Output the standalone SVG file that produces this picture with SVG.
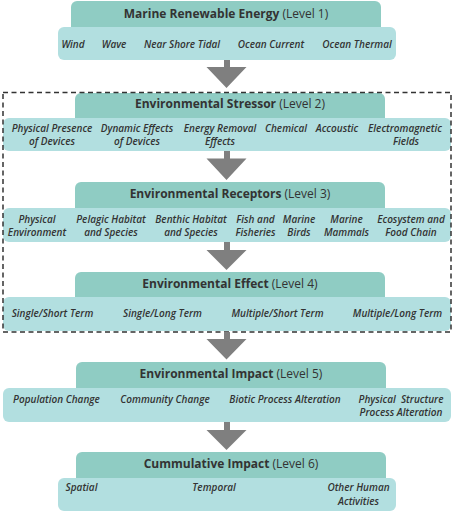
<svg xmlns="http://www.w3.org/2000/svg" width="454" height="513" viewBox="0 0 454 513">
<style>
.hd{fill:#8fccc3}
.bd{fill:#b2dfe0}
.ht{font-family:"Open Sans","Liberation Sans",sans-serif;font-size:12px;fill:#333;text-anchor:middle}
.ht .b{font-weight:700}
.it{font-family:"Open Sans","Liberation Sans",sans-serif;font-size:10px;font-style:italic;font-weight:600;fill:#333;text-anchor:middle}
.arr{fill:#7f7f7f}
</style>
<rect width="454" height="513" fill="#fff"/>
<g id="level1">
<rect class="hd" x="71" y="1" width="310" height="34" rx="6"/>
<rect class="bd" x="58" y="27" width="338" height="33" rx="6"/>
<text class="ht" x="226" y="17.5"><tspan class="b">Marine Renewable Energy</tspan> (Level 1)</text>
<text class="it" y="47.7"><tspan x="73">Wind</tspan><tspan x="114">Wave</tspan><tspan x="182">Near Shore Tidal</tspan><tspan x="271">Ocean Current</tspan><tspan x="357">Ocean Thermal</tspan></text>
</g>
<g id="level2">
<rect class="hd" x="75" y="93" width="310" height="34" rx="6"/>
<rect class="bd" x="3" y="118" width="448" height="33" rx="6"/>
<text class="ht" x="230" y="108.3"><tspan class="b">Environmental Stressor</tspan> (Level 2)</text>
<text class="it" y="131.7"><tspan x="52">Physical Presence</tspan><tspan x="137">Dynamic Effects</tspan><tspan x="220">Energy Removal</tspan><tspan x="286">Chemical</tspan><tspan x="337">Accoustic</tspan><tspan x="405">Electromagnetic</tspan></text>
<text class="it" y="145.3"><tspan x="52">of Devices</tspan><tspan x="137">of Devices</tspan><tspan x="220">Effects</tspan><tspan x="406">Fields</tspan></text>
</g>
<g id="level3">
<rect class="hd" x="75" y="182" width="310" height="34" rx="6"/>
<rect class="bd" x="3" y="208" width="448" height="34" rx="6"/>
<text class="ht" x="230" y="198.3"><tspan class="b">Environmental Receptors</tspan> (Level 3)</text>
<text class="it" y="222.7"><tspan x="37">Physical</tspan><tspan x="111">Pelagic Habitat</tspan><tspan x="191">Benthic Habitat</tspan><tspan x="255.5">Fish and</tspan><tspan x="299">Marine</tspan><tspan x="346.5">Marine</tspan><tspan x="411">Ecosystem and</tspan></text>
<text class="it" y="236.3"><tspan x="37">Environment</tspan><tspan x="111">and Species</tspan><tspan x="191">and Species</tspan><tspan x="255.5">Fisheries</tspan><tspan x="299">Birds</tspan><tspan x="346.5">Mammals</tspan><tspan x="411">Food Chain</tspan></text>
</g>
<g id="level4">
<rect class="hd" x="75" y="272" width="310" height="34" rx="6"/>
<rect class="bd" x="3" y="297" width="448" height="34" rx="6"/>
<text class="ht" x="230" y="288"><tspan class="b">Environmental Effect</tspan> (Level 4)</text>
<text class="it" y="316.7"><tspan x="52.5">Single/Short Term</tspan><tspan x="162.5">Single/Long Term</tspan><tspan x="277.5">Multiple/Short Term</tspan><tspan x="397.5">Multiple/Long Term</tspan></text>
</g>
<g id="level5">
<rect class="hd" x="76" y="362" width="310" height="34" rx="6"/>
<rect class="bd" x="3" y="388" width="448" height="34" rx="6"/>
<text class="ht" x="231" y="378.3"><tspan class="b">Environmental Impact</tspan> (Level 5)</text>
<text class="it" y="402.7"><tspan x="56.5">Population Change</tspan><tspan x="165">Community Change</tspan><tspan x="285">Biotic Process Alteration</tspan><tspan x="401" xml:space="preserve">Physical  Structure</tspan></text>
<text class="it" x="401" y="416.3">Process Alteration</text>
</g>
<g id="level6">
<rect class="hd" x="76" y="452" width="310" height="34" rx="6"/>
<rect class="bd" x="58" y="478" width="338" height="33" rx="6"/>
<text class="ht" x="231" y="468.3"><tspan class="b">Cummulative Impact</tspan> (Level 6)</text>
<text class="it" y="491"><tspan x="81.5">Spatial</tspan><tspan x="214">Temporal</tspan><tspan x="358.5">Other Human</tspan></text>
<text class="it" x="358.5" y="504.7">Activities</text>
</g>
<g id="boundary">
<rect x="3" y="92.5" width="448" height="239.5" fill="none" stroke="#333" stroke-width="1.5" stroke-dasharray="5 3.5"/>
</g>
<g id="connectors">
<polygon class="arr" points="224,60 230,60 230,67 246.5,67 226.5,88 206.5,67 224,67"/>
<polygon class="arr" points="224,151 230,151 230,158.5 246.5,158.5 226.5,180 206.5,158.5 224,158.5"/>
<polygon class="arr" points="224,242 230,242 230,250 246.5,250 226.5,270 206.5,250 224,250"/>
<polygon class="arr" points="224,332 230,332 230,339 246.5,339 226.5,359.5 206.5,339 224,339"/>
<polygon class="arr" points="224,422 230,422 230,430 246.5,430 226.5,450 206.5,430 224,430"/>
</g>
</svg>
